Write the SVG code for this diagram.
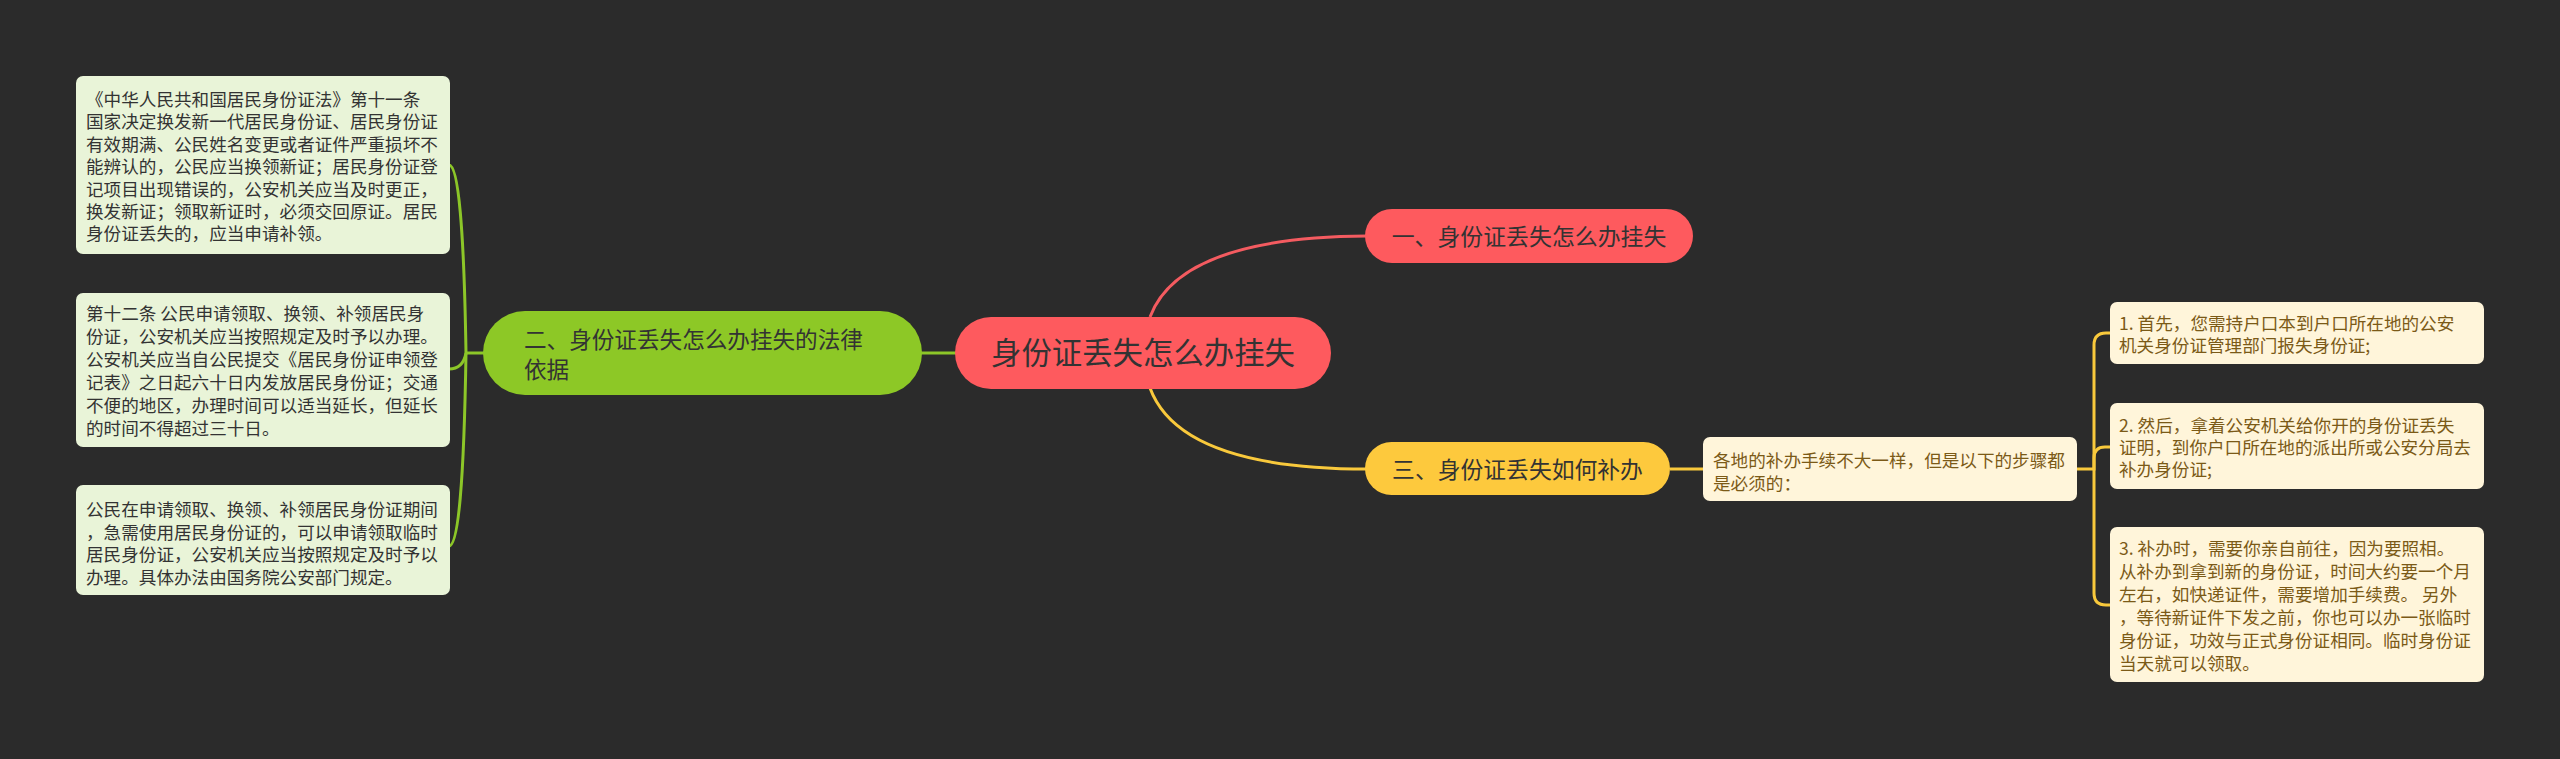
<svg xmlns="http://www.w3.org/2000/svg" width="2560" height="759" viewBox="0 0 2560 759">
<style>
text{font-family:"Noto Sans CJK SC","Noto Sans",sans-serif;}
.leafg{fill:#e9f4d8;}
.leafy{fill:#fff5da;}
.tg{font-size:17.6px;fill:#333333;}
.ty{font-size:17.6px;fill:#7b5a17;}
.cg{fill:none;stroke:#8cc628;stroke-width:3;}
.cy{fill:none;stroke:#f9c93c;stroke-width:3;}
.cr{fill:none;stroke:#f45b60;stroke-width:3;}
</style>
<rect x="0" y="0" width="2560" height="759" fill="#2b2b2b"/>
<g id="connectors">
<path class="cr" d="M1150,317 Q1180,237 1367,236"/>
<path class="cy" d="M1150,388 Q1180,469 1367,469"/>
<path class="cg" d="M956,353 L921,353"/>
<path class="cg" d="M484,353 L466,353"/>
<path class="cg" d="M466,353 Q463,165 449,165"/>
<path class="cg" d="M466,353 Q463,369 449,369"/>
<path class="cg" d="M466,353 Q463,546 449,546"/>
<path class="cy" d="M1670,469 L1704,469"/>
<path class="cy" d="M2076,469 L2094,469 L2094,345 Q2094,333 2106,333 L2111,333"/>
<path class="cy" d="M2094,469 L2094,458 Q2094,447 2105,447 L2111,447"/>
<path class="cy" d="M2094,469 L2094,593 Q2094,605 2106,605 L2111,605"/>
</g>
<g id="center">
<rect x="955" y="317" width="376" height="72" rx="36" fill="#fe5a5e"/>
<text x="1143" y="364" font-size="30.4" fill="#333333" text-anchor="middle">身份证丢失怎么办挂失</text>
</g>
<g id="n1">
<rect x="1365" y="209" width="328" height="54" rx="27" fill="#fe5a5e"/>
<text x="1529" y="245" font-size="22.9" fill="#333333" text-anchor="middle">一、身份证丢失怎么办挂失</text>
</g>
<g id="n2">
<rect x="483" y="311" width="439" height="84" rx="42" fill="#8dc826"/>
<text x="524" y="348" font-size="22.6" fill="#333333">二、身份证丢失怎么办挂失的法律</text>
<text x="524" y="378" font-size="22.6" fill="#333333">依据</text>
</g>
<g id="n3">
<rect x="1365" y="442" width="305" height="53" rx="26.5" fill="#fdc93d"/>
<text x="1517.5" y="478" font-size="22.8" fill="#333333" text-anchor="middle">三、身份证丢失如何补办</text>
</g>
<g id="g1">
<rect class="leafg" x="76" y="76" width="374" height="178" rx="7"/>
<text class="tg" x="86" y="106">《中华人民共和国居民身份证法》第十一条</text>
<text class="tg" x="86" y="128.4">国家决定换发新一代居民身份证、居民身份证</text>
<text class="tg" x="86" y="150.8">有效期满、公民姓名变更或者证件严重损坏不</text>
<text class="tg" x="86" y="173.2">能辨认的，公民应当换领新证；居民身份证登</text>
<text class="tg" x="86" y="195.6">记项目出现错误的，公安机关应当及时更正，</text>
<text class="tg" x="86" y="218">换发新证；领取新证时，必须交回原证。居民</text>
<text class="tg" x="86" y="240.4">身份证丢失的，应当申请补领。</text>
</g>
<g id="g2">
<rect class="leafg" x="76" y="293" width="374" height="154" rx="7"/>
<text class="tg" x="86" y="320">第十二条 公民申请领取、换领、补领居民身</text>
<text class="tg" x="86" y="343">份证，公安机关应当按照规定及时予以办理。</text>
<text class="tg" x="86" y="366">公安机关应当自公民提交《居民身份证申领登</text>
<text class="tg" x="86" y="389">记表》之日起六十日内发放居民身份证；交通</text>
<text class="tg" x="86" y="412">不便的地区，办理时间可以适当延长，但延长</text>
<text class="tg" x="86" y="435">的时间不得超过三十日。</text>
</g>
<g id="g3">
<rect class="leafg" x="76" y="485" width="374" height="110" rx="7"/>
<text class="tg" x="86" y="516">公民在申请领取、换领、补领居民身份证期间</text>
<text class="tg" x="86" y="538.7">，急需使用居民身份证的，可以申请领取临时</text>
<text class="tg" x="86" y="561.4">居民身份证，公安机关应当按照规定及时予以</text>
<text class="tg" x="86" y="584.1">办理。具体办法由国务院公安部门规定。</text>
</g>
<g id="y0">
<rect class="leafy" x="1703" y="437" width="374" height="64" rx="7"/>
<text class="ty" x="1713" y="467.3">各地的补办手续不大一样，但是以下的步骤都</text>
<text class="ty" x="1713" y="489.5">是必须的：</text>
</g>
<g id="y1">
<rect class="leafy" x="2110" y="302" width="374" height="62" rx="7"/>
<text class="ty" x="2119" y="330">1. 首先，您需持户口本到户口所在地的公安</text>
<text class="ty" x="2119" y="352">机关身份证管理部门报失身份证;</text>
</g>
<g id="y2">
<rect class="leafy" x="2110" y="403" width="374" height="86" rx="7"/>
<text class="ty" x="2119" y="431.6">2. 然后，拿着公安机关给你开的身份证丢失</text>
<text class="ty" x="2119" y="454">证明，到你户口所在地的派出所或公安分局去</text>
<text class="ty" x="2119" y="476.4">补办身份证;</text>
</g>
<g id="y3">
<rect class="leafy" x="2110" y="527" width="374" height="155" rx="7"/>
<text class="ty" x="2119" y="555">3. 补办时，需要你亲自前往，因为要照相。</text>
<text class="ty" x="2119" y="578">从补办到拿到新的身份证，时间大约要一个月</text>
<text class="ty" x="2119" y="601">左右，如快递证件，需要增加手续费。 另外</text>
<text class="ty" x="2119" y="624">，等待新证件下发之前，你也可以办一张临时</text>
<text class="ty" x="2119" y="647">身份证，功效与正式身份证相同。临时身份证</text>
<text class="ty" x="2119" y="670">当天就可以领取。</text>
</g>
</svg>
